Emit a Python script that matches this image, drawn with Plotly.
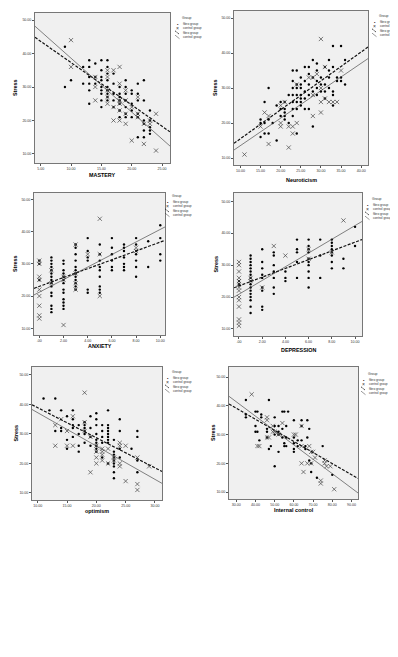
import numpy as np
import plotly.graph_objects as go

W, H = 398, 657

# ---------------- data ----------------
x_titles = ["MASTERY", "Neuroticism", "ANXIETY", "DEPRESSION", "optimism", "Internal control"]
y_title = "Stress"
legend_title = "Group"
group_names = ["fibro group", "control group"]

y_tickvals = [10, 20, 30, 40, 50]
y_ticktext = ["10.00", "20.00", "30.00", "40.00", "50.00"]

x_tickvals_1 = [5, 10, 15, 20, 25]
x_ticktext_1 = ["5.00", "10.00", "15.00", "20.00", "25.00"]
x_tickvals_2 = [10, 15, 20, 25, 30, 35, 40]
x_ticktext_2 = ["10.00", "15.00", "20.00", "25.00", "30.00", "35.00", "40.00"]
x_tickvals_3 = [0, 2, 4, 6, 8, 10]
x_ticktext_3 = [".00", "2.00", "4.00", "6.00", "8.00", "10.00"]
x_tickvals_4 = [0, 2, 4, 6, 8, 10]
x_ticktext_4 = [".00", "2.00", "4.00", "6.00", "8.00", "10.00"]
x_tickvals_5 = [10, 15, 20, 25, 30]
x_ticktext_5 = ["10.00", "15.00", "20.00", "25.00", "30.00"]
x_tickvals_6 = [30, 40, 50, 60, 70, 80, 90]
x_ticktext_6 = ["30.00", "40.00", "50.00", "60.00", "70.00", "80.00", "90.00"]

# Panel 1: MASTERY
p1_fibro_x = [9, 9, 10, 12, 12, 13, 13, 13, 13, 13, 13, 14, 14, 14,
              15, 15, 15, 15, 15, 15, 15, 15, 15, 16, 16, 16, 16, 16, 16, 16, 16, 16,
              17, 17, 17, 17, 17, 18, 18, 18, 18, 18, 18, 18, 19, 19, 19, 19, 19, 19, 19,
              20, 20, 20, 20, 20, 21, 21, 21, 21, 21, 21, 22, 22, 22, 22, 22, 22,
              23, 23, 23, 23, 23]
p1_fibro_y = [30, 42, 32, 36, 31, 38, 36, 33, 31, 29, 25, 37, 33, 31,
              38, 35, 33, 32, 30, 29, 28, 26, 24, 38, 36, 34, 32, 30, 29, 28, 27, 26,
              34, 31, 28, 26, 24, 30, 28, 27, 26, 25, 23, 21, 32, 30, 28, 26, 24, 22, 21,
              29, 28, 25, 23, 21, 31, 28, 26, 22, 21, 15, 32, 26, 20, 19, 17, 15,
              23, 20, 18, 17, 16]
p1_ctrl_x = [10, 10, 14, 14, 14, 16, 16, 16, 16, 16, 17, 17, 17, 18, 18, 18, 18, 18, 18,
             19, 19, 19, 19, 20, 20, 21, 21, 21, 22, 22, 23, 23, 24, 24]
p1_ctrl_y = [44, 36, 33, 30, 26, 35, 33, 29, 27, 25, 35, 24, 20, 36, 31, 26, 25, 23, 20,
             29, 26, 22, 19, 24, 14, 27, 22, 21, 19, 13, 20, 19, 22, 11]
p1_fit_intercept = [50.0, 54.7]   # fibro, control
p1_fit_slope = [-1.27, -1.61]

# Panel 2: Neuroticism
p2_fibro_x = [15, 15, 15, 16, 16, 16, 17, 17, 17, 18, 19, 19, 20, 20, 20,
              21, 21, 21, 21, 21, 22, 22, 23, 23, 23, 23, 23, 23, 23,
              24, 24, 24, 24, 24, 24, 24, 25, 25, 25, 25, 25, 25, 25,
              26, 26, 26, 26, 26, 27, 27, 27, 27, 27, 28, 28, 28, 28,
              29, 29, 29, 29, 29, 30, 30, 30, 31, 31, 31, 31, 32, 32, 32, 32,
              33, 33, 33, 33, 33, 34, 34, 35, 35, 35, 36, 36]
p2_fibro_y = [21, 20, 16, 26, 20, 17, 30, 21, 17, 20, 25, 15, 26, 24, 22,
              26, 24, 23, 22, 21, 28, 20, 35, 32, 30, 28, 26, 24, 22,
              35, 31, 30, 28, 26, 24, 17, 33, 31, 30, 28, 27, 26, 25,
              36, 32, 29, 27, 24, 36, 34, 31, 28, 24, 38, 33, 29, 19,
              37, 35, 32, 30, 28, 33, 31, 29, 36, 31, 29, 27, 38, 35, 33, 30,
              42, 36, 29, 28, 25, 33, 32, 42, 33, 32, 38, 31]
p2_ctrl_x = [11, 15, 16, 17, 17, 20, 20, 20, 21, 22, 22, 23, 23, 24, 24, 27,
             28, 28, 28, 29, 30, 30, 30, 30, 31, 31, 32, 33, 34, 35]
p2_ctrl_y = [11, 19, 23, 22, 14, 25, 20, 19, 26, 19, 13, 19, 17, 31, 20, 33,
             33, 28, 22, 34, 44, 30, 26, 23, 36, 27, 26, 26, 26, 35]
p2_fit_intercept = [7.26, 5.71]
p2_fit_slope = [0.826, 0.784]

# Panel 3: ANXIETY
p3_fibro_x = [0, 0, 0] + [1] * 15 + [2] * 13 + [3] * 12 + [4] * 6 + [5] * 9 + [6] * 6 + [7] * 7 + [8] * 7 + [9] * 2 + [10] * 4
p3_fibro_y = [31, 30, 25,
              32, 31, 30, 29, 28, 27, 26, 25, 24, 23, 21, 20, 17, 16, 15,
              31, 30, 28, 27, 26, 25, 24, 22, 21, 19, 18, 17, 16,
              36, 35, 33, 31, 29, 28, 27, 26, 25, 24, 23, 22,
              38, 34, 32, 31, 22, 21,
              36, 33, 31, 29, 28, 26, 23, 22, 21,
              38, 35, 33, 31, 29, 28,
              36, 35, 34, 32, 30, 29, 28,
              38, 36, 34, 33, 31, 29, 26,
              37, 29,
              42, 38, 33, 31]
p3_ctrl_x = [0] * 9 + [1] * 2 + [2] * 3 + [3] * 4 + [4] + [5] * 3 + [8] * 2
p3_ctrl_y = [31, 30, 26, 25, 22, 20, 17, 14, 13, 28, 24, 26, 25, 11, 36, 27, 24, 22, 33, 44, 33, 20, 35, 34]
p3_fit_intercept = [23.0, 21.2]
p3_fit_slope = [1.376, 1.95]

# Panel 4: DEPRESSION
p4_fibro_x = [0] * 2 + [1] * 17 + [2] * 9 + [3] * 7 + [4] * 3 + [5] * 5 + [6] * 10 + [7] * 3 + [8] * 8 + [9] * 2 + [10] * 2
p4_fibro_y = [25, 24,
              33, 32, 31, 30, 29, 28, 27, 26, 25, 24, 23, 22, 21, 20, 19, 17, 15,
              35, 31, 29, 27, 26, 23, 22, 17, 16,
              34, 33, 30, 28, 26, 23, 21,
              28, 26, 25,
              38, 35, 34, 31, 26,
              38, 36, 35, 34, 32, 31, 30, 28, 26, 23,
              38, 33, 26,
              38, 37, 36, 35, 34, 33, 31, 29,
              32, 29,
              42, 36]
p4_ctrl_x = [0] * 14 + [1] * 2 + [2, 3, 4, 6, 6, 8, 9]
p4_ctrl_y = [31, 30, 28, 26, 25, 24, 23, 22, 20, 19, 17, 13, 12, 11, 26, 25, 23, 36, 33, 35, 32, 34, 44]
p4_fit_intercept = [23.5, 20.9]
p4_fit_slope = [1.37, 2.15]

# Panel 5: optimism
p5_fibro_x = [11, 12, 13, 13, 14, 14, 14, 15, 15, 15, 16, 16, 16, 16, 16, 17, 17, 17, 17,
              18, 18, 18, 18, 18, 18, 19, 19, 19, 19, 20, 20, 20, 20, 20, 20, 20, 20, 20,
              21, 21, 21, 21, 21, 22, 22, 22, 22, 22, 22, 22, 22, 22,
              23, 23, 23, 23, 23, 23, 23, 23, 23, 24, 24, 24, 24, 26, 27, 27, 27, 27]
p5_fibro_y = [42, 38, 42, 31, 38, 32, 31, 36, 28, 25, 38, 35, 33, 32, 29, 33, 30, 26, 24,
              34, 33, 32, 31, 30, 27, 36, 32, 29, 26, 37, 35, 33, 30, 28, 27, 26, 25, 24,
              33, 31, 29, 27, 22, 38, 33, 32, 31, 30, 29, 28, 27, 20,
              28, 24, 23, 22, 21, 20, 19, 17, 15, 35, 31, 25, 22, 25, 31, 29, 21, 17]
p5_ctrl_x = [13, 13, 14, 15, 15, 16, 16, 18, 18, 18, 19, 19, 20, 20, 20, 20, 21, 21, 21, 21,
             22, 22, 23, 23, 24, 24, 24, 24, 25, 25, 27, 27, 27, 29]
p5_ctrl_y = [33, 26, 35, 31, 26, 36, 26, 44, 34, 31, 29, 17, 26, 24, 22, 20, 25, 24, 23, 21,
             25, 20, 22, 21, 27, 26, 20, 19, 26, 14, 22, 13, 11, 19]
p5_fit_intercept = [49.1, 48.5]
p5_fit_slope = [-1.02, -1.13]

# Panel 6: Internal control
p6_fibro_x = [35, 35, 35, 40, 41, 43, 43, 40, 40, 41, 42, 46, 46, 46, 47, 48, 47,
              50, 50, 50, 50, 52, 52, 52, 52, 54, 55, 54, 54, 55, 55, 57, 56, 56, 56,
              60, 60, 60, 60, 60, 62, 62, 64, 64, 64, 66, 66, 67, 68, 67, 68, 69, 69,
              75, 72, 80]
p6_fibro_y = [42, 37, 36, 38, 38, 37, 36, 33, 31, 31, 28, 32, 31, 29, 42, 26, 25,
              36, 33, 30, 19, 33, 31, 30, 24, 38, 38, 32, 29, 27, 26, 38, 33, 29, 26,
              35, 29, 27, 25, 24, 28, 26, 35, 33, 28, 25, 26, 35, 32, 29, 21, 17, 20,
              26, 15, 16]
p6_ctrl_x = [38, 41, 42, 46, 46, 46, 47, 49, 49, 50, 52, 54, 60, 61, 64, 64, 64, 65,
             67, 69, 68, 69, 70, 71, 76, 76, 74, 74, 77, 79, 81]
p6_ctrl_y = [44, 26, 26, 36, 35, 29, 29, 33, 31, 31, 30, 34, 30, 30, 33, 26, 20, 17,
             20, 20, 26, 24, 24, 22, 21, 20, 14, 13, 19, 19, 11]
p6_fit_intercept = [50.7, 56.4]
p6_fit_slope = [-0.385, -0.50]

# ---------------- layout constants ----------------
# plot area in pixels: left, right, top, bottom
plot_px = [(27, 162, 5, 155), (226, 360, 3, 157), (26, 157, 185, 327),
           (226, 354, 185, 328), (24, 154, 359, 492), (221, 350, 359, 491)]
x_ranges = [(4.07, 26.3), (8.4, 41.7), (-0.44, 10.39), (-0.43, 10.6), (9.03, 31.2), (26.2, 93.4)]
y_ranges = [(7.3, 52.1), (8.0, 52.0), (7.9, 52.0), (7.8, 52.6), (7.6, 52.7), (7.6, 53.5)]
legend_px = [(169, 10), (366, 8), (159, 188), (359, 191), (159, 364), (355, 366)]
xtitle_offset_px = [12, 15, 11, 14, 11, 11]
ytitle_offset_px = [20, 19, 19, 19, 17, 16]

panels = [
    (p1_fibro_x, p1_fibro_y, p1_ctrl_x, p1_ctrl_y, p1_fit_intercept, p1_fit_slope, x_tickvals_1, x_ticktext_1),
    (p2_fibro_x, p2_fibro_y, p2_ctrl_x, p2_ctrl_y, p2_fit_intercept, p2_fit_slope, x_tickvals_2, x_ticktext_2),
    (p3_fibro_x, p3_fibro_y, p3_ctrl_x, p3_ctrl_y, p3_fit_intercept, p3_fit_slope, x_tickvals_3, x_ticktext_3),
    (p4_fibro_x, p4_fibro_y, p4_ctrl_x, p4_ctrl_y, p4_fit_intercept, p4_fit_slope, x_tickvals_4, x_ticktext_4),
    (p5_fibro_x, p5_fibro_y, p5_ctrl_x, p5_ctrl_y, p5_fit_intercept, p5_fit_slope, x_tickvals_5, x_ticktext_5),
    (p6_fibro_x, p6_fibro_y, p6_ctrl_x, p6_ctrl_y, p6_fit_intercept, p6_fit_slope, x_tickvals_6, x_ticktext_6),
]

FONT = "Liberation Sans, Arial, sans-serif"
fig = go.Figure()
shapes = []
annotations = []


def px_x(p):
    return p / W


def px_y(p):
    return 1 - p / H


for i, (fx, fy, cx, cy, b0, b1, xtv, xtt) in enumerate(panels):
    k = "" if i == 0 else str(i + 1)
    xa, ya = "x" + k, "y" + k
    l, r, t, b = plot_px[i]
    xr = np.array(x_ranges[i])

    fig.add_trace(go.Scatter(x=fx, y=fy, xaxis=xa, yaxis=ya, mode="markers", showlegend=False,
                             marker=dict(symbol="circle", size=2.4, color="#000000",
                                         line=dict(width=0))))
    fig.add_trace(go.Scatter(x=cx, y=cy, xaxis=xa, yaxis=ya, mode="markers", showlegend=False,
                             marker=dict(symbol="x-thin-open", size=4.2, color="#444444",
                                         line=dict(width=0.7, color="#444444"))))
    # regression lines across the plot area
    fig.add_trace(go.Scatter(x=xr, y=b0[0] + b1[0] * xr, xaxis=xa, yaxis=ya, mode="lines",
                             showlegend=False, line=dict(color="#111111", width=1.2, dash="3px,1.5px")))
    fig.add_trace(go.Scatter(x=xr, y=b0[1] + b1[1] * xr, xaxis=xa, yaxis=ya, mode="lines",
                             showlegend=False, line=dict(color="#333333", width=0.6)))

    common = dict(showline=True, mirror=True, linecolor="#777777", linewidth=0.8,
                  showgrid=False, zeroline=False, ticks="outside", ticklen=2, tickwidth=0.6,
                  tickcolor="#555555", tickfont=dict(size=3.6, color="#333333", family=FONT))
    fig.update_layout(**{
        "xaxis" + k: dict(domain=[px_x(l), px_x(r)], range=list(x_ranges[i]), anchor=ya,
                          tickvals=xtv, ticktext=xtt, **common),
        "yaxis" + k: dict(domain=[px_y(b), px_y(t)], range=list(y_ranges[i]), anchor=xa,
                          tickvals=y_tickvals, ticktext=y_ticktext, **common),
    })

    # axis titles
    annotations.append(dict(xref="paper", yref="paper", x=px_x((l + r) / 2), y=px_y(b + xtitle_offset_px[i]),
                            text=f"<b>{x_titles[i]}</b>", showarrow=False, xanchor="center", yanchor="middle",
                            font=dict(size=5.4, color="#000000", family=FONT)))
    annotations.append(dict(xref="paper", yref="paper", x=px_x(l - ytitle_offset_px[i]), y=px_y((t + b) / 2),
                            text=f"<b>{y_title}</b>", showarrow=False, xanchor="center", yanchor="middle",
                            textangle=-90, font=dict(size=5.4, color="#000000", family=FONT)))

    # manual SPSS-style legend
    sx, ty = legend_px[i]
    annotations.append(dict(xref="paper", yref="paper", x=px_x(sx + 3), y=px_y(ty), text=legend_title,
                            showarrow=False, xanchor="left", yanchor="middle",
                            font=dict(size=3.4, color="#333333", family=FONT)))
    item_y = [ty + 6 + 4.3 * j for j in range(4)]
    labels = [group_names[0], group_names[1], group_names[0], group_names[1]]
    for j, yy in enumerate(item_y):
        annotations.append(dict(xref="paper", yref="paper", x=px_x(sx + 3.5), y=px_y(yy), text=labels[j],
                                showarrow=False, xanchor="left", yanchor="middle",
                                font=dict(size=3.2, color="#333333", family=FONT)))
    annotations.append(dict(xref="paper", yref="paper", x=px_x(sx + 0.5), y=px_y(item_y[0]), text="•",
                            showarrow=False, xanchor="center", yanchor="middle",
                            font=dict(size=4, color="#000000", family=FONT)))
    annotations.append(dict(xref="paper", yref="paper", x=px_x(sx + 0.5), y=px_y(item_y[1]), text="×",
                            showarrow=False, xanchor="center", yanchor="middle",
                            font=dict(size=5, color="#333333", family=FONT)))
    shapes.append(dict(type="line", xref="paper", yref="paper",
                       x0=px_x(sx - 2), y0=px_y(item_y[2] - 1.8), x1=px_x(sx + 2.5), y1=px_y(item_y[2] + 1.8),
                       line=dict(color="#111111", width=0.8, dash="2px,1px")))
    shapes.append(dict(type="line", xref="paper", yref="paper",
                       x0=px_x(sx - 2), y0=px_y(item_y[3] - 1.8), x1=px_x(sx + 2.5), y1=px_y(item_y[3] + 1.8),
                       line=dict(color="#333333", width=0.5)))

fig.update_layout(width=W, height=H, autosize=False,
                  margin=dict(l=0, r=0, t=0, b=0, pad=0),
                  paper_bgcolor="#ffffff", plot_bgcolor="#f0f0f0",
                  shapes=shapes, annotations=annotations, showlegend=False,
                  font=dict(family=FONT))

fig.write_html("out.html")
